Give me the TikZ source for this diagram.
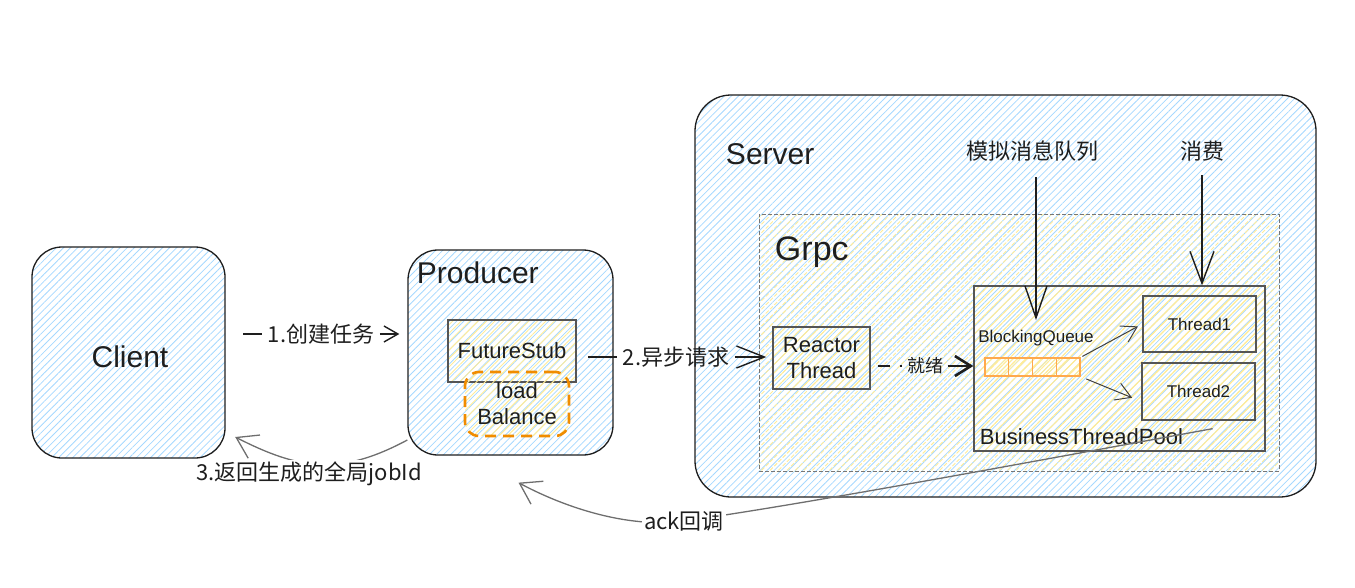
\documentclass[tikz,border=0pt]{standalone}
\usepackage{fontspec}
\setmainfont{Liberation Sans}
\newfontfamily\cjk{Noto Sans CJK SC}
\usetikzlibrary{arrows.meta,patterns.meta,calc}
\definecolor{ink}{HTML}{1E1E1E}
\definecolor{hatchblue}{HTML}{A5D8FF}
\definecolor{hatchyellow}{HTML}{FFEC99}
\definecolor{boxgray}{HTML}{555555}
\definecolor{lborange}{HTML}{F08C00}
\definecolor{cellorange}{HTML}{FFA94D}
\definecolor{linkgray}{HTML}{6E6E6E}
\newcommand{\hugefont}{\fontsize{34}{38}\selectfont}
\newcommand{\bigfont}{\fontsize{30}{34}\selectfont}
\newcommand{\midfont}{\fontsize{22}{26}\selectfont}
\newcommand{\smallfont}{\fontsize{17}{20}\selectfont}

\begin{document}
\begin{tikzpicture}[x=1pt, y=-1pt,
                    every node/.style={text=ink},
                    line width=1.3pt]
    \tikzstyle{roundbox}=[draw=ink, rounded corners=30pt, inner sep=0pt,
                          pattern={Lines[angle=45,distance=5pt,line width=0.8pt]}, pattern color=hatchblue]
    \tikzstyle{yellowbox}=[draw=boxgray, inner sep=0pt,
                           pattern={Lines[angle=45,distance=6pt,line width=0.9pt]}, pattern color=hatchyellow]
    \tikzstyle{gridbox}=[yellowbox, draw=boxgray!80, line width=0.9pt, dash pattern=on 4pt off 2pt]
    \tikzstyle{lbbox}=[draw=lborange, line width=2.6pt, dash pattern=on 11pt off 7pt, rounded corners=14pt, inner sep=0pt,
                       pattern={Lines[angle=45,distance=6pt,line width=1pt]}, pattern color=hatchyellow]
    \tikzstyle{cell}=[draw=cellorange, line width=1.3pt, inner sep=0pt, minimum width=23.75pt, minimum height=18pt,
                      pattern={Lines[angle=45,distance=5pt,line width=1pt]}, pattern color=hatchyellow]
    \tikzstyle{lbl}=[font={\midfont\cjk}, inner sep=5pt]
    \tikzstyle{conn}=[draw=ink, line width=1.4pt]
    \tikzstyle{backconn}=[draw=linkgray, line width=1.3pt, -{Straight Barb[length=20pt,width=26pt]}]

    \useasboundingbox (0,0) rectangle (1355,587);

    % the three parts
    \node[roundbox, minimum width=193pt, minimum height=211pt] (Client) at (128.5,352.5) {};
    \node[font=\bigfont] (clienttxt) at (130,357) {Client};
    \node[roundbox, minimum width=205pt, minimum height=205pt] (Producer) at (510.5,352.5) {};
    \node[roundbox, rounded corners=36pt, minimum width=621pt, minimum height=402pt] (Server) at (1005.5,296) {};
    \node[font=\bigfont, anchor=west] (producertxt) at (413,273) {Producer};
    \node[font=\bigfont, anchor=west] (servertxt) at (722,154) {Server};

    % producer side
    \node[yellowbox, minimum width=128pt, minimum height=62pt, font=\midfont] (FutureStub) at (512,351) {FutureStub};
    \node[lbbox, minimum width=104pt, minimum height=64pt, font=\midfont, align=center] (loadBal) at (517,404) {load\\Balance};

    % grpc inside server
    \node[gridbox, minimum width=520pt, minimum height=257pt] (Grpc) at (1019,342.5) {};
    \node[font=\hugefont, anchor=west] (grpctxt) at (771,252) {Grpc};
    \node[yellowbox, minimum width=97pt, minimum height=62pt, font=\midfont, align=center] (Reactor) at (821.5,358) {Reactor\\Thread};
    \node[yellowbox, minimum width=291pt, minimum height=165pt] (BTP) at (1119.5,368.5) {};
    \node[font=\midfont, anchor=west] (btptxt) at (976,437) {BusinessThreadPool};
    \node[yellowbox, minimum width=113pt, minimum height=56pt, font=\smallfont] (Thread1) at (1199.5,324) {Thread1};
    \node[yellowbox, minimum width=113pt, minimum height=57pt, font=\smallfont] (Thread2) at (1198.5,391.5) {Thread2};
    \node[font=\smallfont] (bq) at (1036,338) {BlockingQueue};
    \foreach \i in {1,...,4}
        \node[cell] (q\i) at (973.125+23.75*\i,367) {};

    \node[font={\midfont\cjk}] (mq) at (1032,151) {模拟消息队列};
    \node[font={\midfont\cjk}] (consume) at (1202,151) {消费};

    % requests
    \node[lbl] (l1) at (321,334) {1.创建任务};
    \draw[conn, shorten <=18pt] (Client.east |- l1) -- (l1.west);
    \draw[conn, shorten >=8pt, -{Straight Barb[length=14pt,width=16pt]}] (l1.east) -- (Producer.west |- l1);

    \node[lbl] (l2) at (676,357) {2.异步请求};
    \draw[conn, shorten <=12pt] (FutureStub.east |- l2) -- (l2.west);
    \draw[conn, shorten >=6pt, -{Straight Barb[length=28pt,width=22pt]}] (l2.east) -- (Reactor.west |- l2);

    \node[font={\fontsize{18}{20}\selectfont\cjk}, inner sep=4pt] (ready) at (925,366) {就绪};
    \draw[conn, line width=2.6pt, dash pattern=on 12pt off 10pt, shorten <=7pt] (Reactor.east |- ready) -- (ready.west);
    \draw[conn, line width=2.6pt, -{Straight Barb[length=16pt,width=20pt]}] (ready.east) -- (BTP.west |- ready);

    \draw[conn, shorten <=12pt, shorten >=6pt, -{Straight Barb[length=32pt,width=22pt]}] (bq.north |- mq.south) -- (bq.north);
    \draw[conn, shorten <=10pt, -{Straight Barb[length=32pt,width=24pt]}] (consume.south) -- (consume.south |- BTP.north);

    \draw[draw=ink!85, line width=1pt, shorten <=2pt, shorten >=5pt, -{Straight Barb[length=15pt,width=18pt]}] (q4.north east) -- (Thread1.west);
    \draw[draw=ink!85, line width=1pt, shorten <=6pt, shorten >=10pt, -{Straight Barb[length=15pt,width=18pt]}] (q4.south east) -- ($(Thread2.west)+(0,10)$);

    % answers
    \coordinate (jobS) at (Producer.west |- 0,440);
    \coordinate (jobE) at (Client.east |- 0,432);
    \draw[backconn, shorten >=11pt] (jobS) .. controls (340,476) and (300,470) .. (jobE);
    \node[lbl, fill=white, inner sep=2pt] (l3) at (309,474) {3.返回生成的全局jobId};

    \coordinate (ackS) at ($(BTP.south east)+(-53,-23)$);
    \coordinate (ackE) at ($(Producer.south)+(8,27)$);
    \coordinate (ackpos) at (684,521);
    \draw[backconn] (ackS) .. controls (1030,462) and (800,505) .. (ackpos)
                           .. controls (625,529) and (560,505) .. (ackE);
    \node[lbl, fill=white, inner sep=2pt] (ack) at (ackpos) {ack回调};
\end{tikzpicture}
\end{document}
